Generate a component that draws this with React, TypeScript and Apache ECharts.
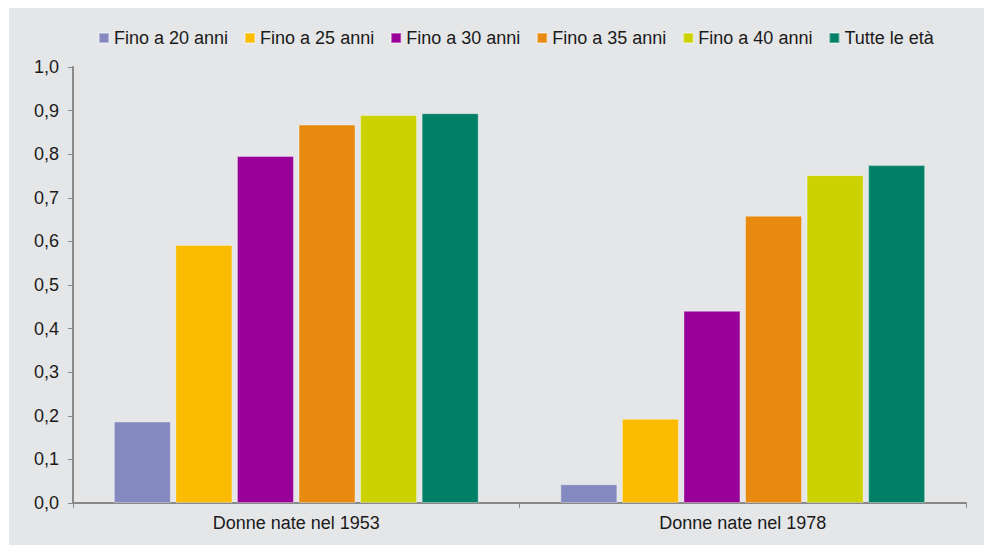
import React, { useEffect, useRef } from "react";
import * as echarts from "echarts";

const categories = ["Donne nate nel 1953", "Donne nate nel 1978"];
const seriesNames = ["Fino a 20 anni", "Fino a 25 anni", "Fino a 30 anni", "Fino a 35 anni", "Fino a 40 anni", "Tutte le età"];
const fino20 = [0.187, 0.043];
const fino25 = [0.592, 0.193];
const fino30 = [0.796, 0.441];
const fino35 = [0.868, 0.659];
const fino40 = [0.89, 0.752];
const tutte = [0.894, 0.775];
const colors = ["#848abf", "#fbbb00", "#990099", "#e88a10", "#ccd200", "#008066"];
const values = [fino20, fino25, fino30, fino35, fino40, tutte];

export default function App() {
  const ref = useRef<HTMLDivElement>(null);
  useEffect(() => {
    if (!ref.current) return;
    const chart = echarts.init(ref.current, null, { renderer: "svg" });
    const font = "'Liberation Sans', Arial, sans-serif";
    chart.setOption({
      animation: false,
      backgroundColor: "#ffffff",
      graphic: [
        {
          type: "rect",
          z: -10,
          silent: true,
          shape: { x: 9, y: 8, width: 975, height: 537 },
          style: { fill: "#e5e6e8" },
        },
      ],
      legend: {
        left: 93,
        top: 24,
        itemWidth: 10,
        itemHeight: 10,
        itemGap: 16,
        icon: "rect",
        textStyle: { fontFamily: font, fontSize: 18, color: "#1a1a1a" },
        data: seriesNames,
      },
      grid: { left: 73, right: 18, top: 67, bottom: 42, containLabel: false },
      xAxis: {
        type: "category",
        data: categories,
        boundaryGap: true,
        axisLine: { show: true, lineStyle: { color: "#898989", width: 2 } },
        axisTick: { show: true, length: 5, lineStyle: { color: "#898989", width: 1 } },
        axisLabel: { fontFamily: font, fontSize: 18, color: "#1a1a1a", margin: 11 },
        splitLine: { show: false },
      },
      yAxis: {
        type: "value",
        min: 0,
        max: 1,
        interval: 0.1,
        axisLine: { show: true, lineStyle: { color: "#898989", width: 2 } },
        axisTick: { show: true, length: 5, lineStyle: { color: "#898989", width: 1 } },
        axisLabel: {
          fontFamily: font,
          fontSize: 18,
          color: "#1a1a1a",
          margin: 14,
          formatter: (v: number) => v.toFixed(1).replace(".", ","),
        },
        splitLine: { show: false },
      },
      series: seriesNames.map((name, i) => ({
        name,
        type: "bar",
        data: values[i],
        barWidth: 57,
        barGap: "8%",
        itemStyle: {
          color: colors[i],
          borderColor: "rgba(255,255,255,0.35)",
          borderWidth: 1,
        },
      })),
    });
    return () => chart.dispose();
  }, []);
  return (
    <div
      ref={ref}
      style={{ position: "absolute", left: 0, top: 0, width: 984, height: 545 }}
    />
  );
}
